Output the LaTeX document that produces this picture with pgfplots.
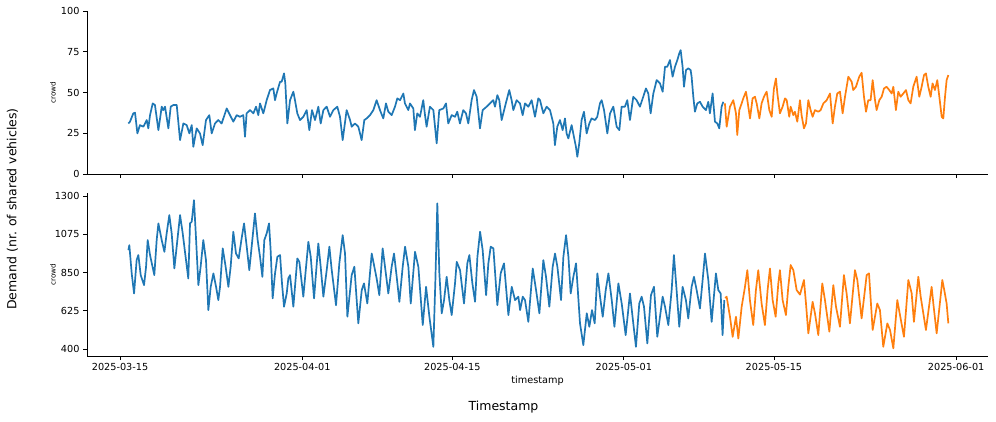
\documentclass[border=0pt]{standalone}
\usepackage{fontspec}
\setmainfont{DejaVu Sans}
\usepackage{pgfplots}
\pgfplotsset{compat=1.18}
\definecolor{mplblue}{HTML}{1F77B4}
\definecolor{mplorange}{HTML}{FF7F0E}
\pgfplotsset{
  panel/.style={
    scale only axis, width=901pt, height=163pt,
    xmin=-3.08, xmax=80.97,
    axis x line*=bottom, axis y line*=left,
    axis line style={-, black, line width=0.8pt},
    tick align=outside, major tick length=4pt,
    tick style={black, line width=0.8pt},
    xtick={0,17,31,47,61,78},
    ticklabel style={font=\fontsize{9.7}{11}\selectfont},
    /pgf/number format/assume math mode=true,
    /pgf/number format/1000 sep={},
    scaled ticks=false,
    ylabel={crowd},
    ylabel style={font=\fontsize{7.2}{8}\selectfont, at={(axis description cs:-0.0377,0.5)}, anchor=center},
    every axis plot/.append style={line width=1.7pt, line join=round},
  }
}
\begin{document}
\begin{tikzpicture}[x=1pt,y=1pt]
\useasboundingbox (0,0) rectangle (996,421);
% top panel
\begin{axis}[panel, at={(87pt,247pt)}, anchor=south west,
  ymin=0, ymax=100, ytick={0,25,50,75,100}, xticklabels={}]
\addplot[mplblue] coordinates {
(0.78,31.0)(0.93,32.1)(1.24,37.2)(1.40,37.6)(1.62,24.9)(1.86,30.0)(2.18,29.0)(2.49,33.1)(2.64,28.0)(2.80,36.1)
(3.05,43.3)(3.26,42.3)(3.58,26.9)(3.89,41.3)(4.04,39.2)(4.20,41.3)(4.51,28.0)(4.73,41.3)(4.97,42.3)(5.29,42.3)
(5.60,20.8)(5.91,31.0)(6.22,30.0)(6.47,24.9)(6.69,30.0)(6.84,16.7)(7.15,28.0)(7.46,24.9)(7.71,17.7)(8.02,33.1)
(8.33,36.1)(8.55,24.9)(8.86,31.0)(9.17,33.1)(9.48,31.0)(9.95,40.2)(10.26,36.1)(10.57,32.1)(10.88,36.1)(11.19,35.1)
(11.50,36.1)(11.66,22.9)(11.81,37.2)(12.13,39.2)(12.44,37.2)(12.69,41.3)(12.90,36.1)(13.06,43.3)(13.37,37.2)(13.68,45.3)
(13.99,51.5)(14.30,52.5)(14.46,45.3)(14.61,49.4)(14.93,56.6)(15.08,56.6)(15.30,61.7)(15.42,55.6)(15.61,31.0)(15.86,45.3)
(16.17,50.5)(16.32,45.3)(16.54,37.2)(16.79,33.1)(17.10,35.1)(17.41,39.2)(17.66,26.9)(17.91,39.2)(18.19,33.1)(18.50,41.3)
(18.72,31.0)(18.97,39.2)(19.28,41.3)(19.59,35.1)(19.90,39.2)(20.27,41.3)(20.52,35.1)(20.77,20.8)(21.14,39.2)(21.46,33.1)
(21.61,29.0)(21.92,31.0)(22.23,29.0)(22.54,20.8)(22.79,33.1)(23.01,34.1)(23.32,36.1)(23.63,39.2)(23.94,45.3)(24.25,39.2)
(24.56,34.1)(24.81,43.3)(25.03,38.2)(25.34,36.1)(25.65,41.3)(25.87,46.4)(26.12,45.3)
(26.43,49.4)(26.58,43.3)(26.89,39.2)(27.05,43.3)(27.36,40.2)(27.51,26.9)(27.73,37.2)(27.98,35.1)(28.29,45.3)(28.45,36.1)
(28.60,29.0)(28.91,41.3)(29.23,39.2)(29.54,18.8)(29.78,39.2)(30.16,40.2)(30.41,43.3)(30.62,31.0)(30.94,36.1)(31.25,35.1)
(31.46,38.2)(31.71,31.0)(32.02,39.2)(32.27,37.2)(32.49,31.0)(32.80,45.3)(33.02,51.5)(33.27,47.4)(33.58,28.0)(33.83,39.2)
(34.20,41.3)(34.51,43.3)(34.82,45.3)(34.98,41.3)(35.20,48.4)(35.38,45.3)(35.60,33.1)(35.91,41.3)(36.31,51.5)(36.53,45.3)
(36.69,39.2)(37.00,45.3)(37.31,43.3)(37.56,36.1)(37.78,43.3)(38.09,41.3)(38.40,45.3)(38.71,35.1)(39.02,46.4)(39.18,45.3)
(39.49,37.2)(39.80,41.3)(40.11,39.2)(40.42,31.0)(40.57,17.7)(40.79,29.0)(41.04,33.1)(41.29,26.9)(41.51,34.1)(41.66,24.9)
(41.82,21.8)(42.13,30.0)(42.28,24.9)(42.53,16.7)(42.66,10.6)(42.84,18.8)(43.06,33.1)(43.28,38.2)(43.53,24.9)(43.78,31.0)
(43.99,34.1)(44.31,33.1)(44.52,35.1)(44.77,43.3)(44.93,45.3)(45.15,39.2)(45.46,24.9)(45.71,37.2)(46.02,41.3)(46.33,29.0)
(46.58,26.9)(46.79,41.3)(47.10,41.3)(47.32,45.3)(47.57,33.1)(47.88,47.4)(48.19,45.3)(48.50,41.3)(48.81,47.4)(49.06,52.5)
(49.28,49.4)(49.50,37.2)(49.75,49.4)(50.06,57.6)(50.37,55.6)(50.62,50.5)(50.84,65.8)(51.05,65.8)(51.30,69.9)(51.55,59.7)
(51.77,65.8)(51.99,69.9)(52.17,74.0)(52.30,76.0)(52.48,65.8)(52.61,53.5)(52.80,63.8)(53.01,64.8)(53.23,63.8)(53.32,59.7)
(53.48,47.4)(53.63,38.2)(53.85,43.3)(54.10,44.3)(54.35,41.3)(54.66,39.2)(54.88,44.3)(55.03,37.2)(55.28,49.4)(55.50,32.1)
(55.72,31.0)(55.90,28.0)(56.12,41.3)(56.28,44.3)
};
\addplot[mplorange] coordinates {
(56.43,43.3)(56.59,29.0)(56.90,41.3)(57.21,45.3)(57.46,37.2)(57.58,23.9)(57.77,39.2)(57.99,43.3)(58.14,46.4)(58.39,50.5)
(58.52,45.3)(58.77,34.1)(59.01,46.4)(59.23,47.4)(59.39,43.3)(59.64,34.1)(59.85,43.3)(60.07,47.4)(60.32,50.5)(60.57,39.2)
(60.79,35.1)(61.00,52.5)(61.19,58.6)(61.32,49.4)(61.56,37.2)(61.81,41.3)(62.03,46.4)(62.19,45.3)(62.43,35.1)(62.56,41.3)
(62.81,36.1)(62.96,38.2)(63.18,32.1)(63.43,45.3)(63.58,36.1)(63.80,28.0)(63.99,31.0)(64.21,45.3)(64.42,39.2)(64.61,35.1)
(64.83,39.2)(65.14,38.2)(65.36,39.2)(65.61,43.3)(65.92,45.3)(66.23,49.4)(66.48,31.0)(66.69,41.3)(66.91,49.4)(67.16,50.5)
(67.41,37.2)(67.63,47.4)(67.94,59.7)(68.25,56.6)(68.40,51.5)(68.65,53.5)(68.96,59.7)(69.18,62.1)(69.40,47.4)(69.59,38.2)
(69.80,45.3)(70.02,45.3)(70.21,57.6)(70.43,45.3)(70.58,39.2)(70.83,45.3)(71.05,47.4)(71.27,52.5)(71.51,53.5)(71.76,51.5)
(71.98,49.4)(72.14,53.5)(72.38,39.2)(72.60,50.5)(72.82,47.4)(73.07,49.4)(73.32,51.5)(73.54,45.3)(73.75,43.3)(74.00,53.5)
(74.31,59.7)(74.56,47.4)(74.78,53.5)(75.00,60.7)(75.18,61.7)(75.40,53.5)(75.62,47.4)(75.80,55.6)(76.02,51.5)(76.24,57.6)
(76.43,47.4)(76.65,35.1)(76.80,34.1)(76.96,47.4)(77.11,57.6)(77.27,60.7)
};
\end{axis}
% bottom panel
\begin{axis}[panel, at={(87pt,65pt)}, anchor=south west,
  ymin=359, ymax=1318, ytick={400,625,850,1075,1300},
  xticklabels={2025-03-15,2025-04-01,2025-04-15,2025-05-01,2025-05-15,2025-06-01},
  xlabel={timestamp},
  xlabel style={font=\fontsize{9.7}{11}\selectfont, at={(axis description cs:0.5,-0.153)}, anchor=center}]
\addplot[mplblue] coordinates {
(0.78,982)(0.87,1011)(1.09,845)(1.31,727)(1.55,923)(1.71,953)(1.93,835)(2.24,776)(2.43,884)(2.58,1041)
(2.80,953)(3.20,835)(3.42,1041)(3.58,1139)(3.89,1041)(4.14,972)(4.35,1080)(4.60,1188)(4.82,1080)(5.07,874)
(5.35,1041)(5.60,1188)(5.85,1080)(6.06,972)(6.37,815)(6.53,1139)(6.69,1149)(6.90,1276)(7.09,1051)(7.31,776)
(7.52,884)(7.77,1041)(8.02,923)(8.24,629)(8.46,766)(8.71,845)(8.96,766)(9.17,688)(9.33,766)(9.58,992)
(9.83,894)(10.11,766)(10.32,884)(10.57,1090)(10.82,962)(11.07,933)(11.32,1041)(11.57,1139)(11.82,1002)(12.06,864)
(12.31,1021)(12.59,1198)(12.84,1041)(13.06,943)(13.28,825)(13.46,1041)(13.68,1080)(13.90,1139)(14.05,982)(14.24,698)
(14.46,845)(14.68,943)(14.93,953)(15.11,786)(15.30,649)(15.55,727)(15.70,815)
(15.86,835)(16.17,649)(16.54,933)(16.73,913)(17.10,708)(17.57,1031)(17.79,943)(18.10,698)(18.50,1021)(18.72,884)
(18.97,708)(19.28,864)(19.53,1002)(19.75,864)(20.15,658)(20.46,904)(20.77,1070)(20.99,962)(21.21,590)(21.61,835)
(21.86,884)(22.23,551)(22.55,747)(22.76,786)(23.07,668)(23.48,962)(23.94,815)(24.19,717)(24.50,992)(24.72,884)
(25.03,727)(25.34,884)(25.56,962)(25.81,825)(26.06,678)(26.37,884)(26.59,1002)(26.90,884)(27.12,668)(27.52,972)
(27.83,884)(28.24,541)(28.55,766)(28.86,590)(29.23,413)(29.42,806)(29.60,1257)(29.79,845)(30.01,610)(30.23,688)
(30.47,825)(30.72,688)(30.94,600)(31.25,786)(31.41,913)(31.72,864)
(32.09,668)(32.40,904)(32.59,953)(32.87,786)(33.12,678)(33.34,943)(33.59,1090)(33.83,982)(34.15,717)(34.36,904)
(34.58,1002)(34.83,992)(35.20,658)(35.51,845)(35.82,904)(36.23,600)(36.54,766)(36.85,688)(37.16,708)(37.32,629)
(37.57,708)(37.78,688)(38.09,560)(38.50,874)(38.81,747)(39.12,610)(39.49,923)(39.74,825)(40.05,649)(40.36,884)
(40.58,962)(40.80,884)(41.14,688)(41.36,943)(41.61,1070)(41.83,943)(42.04,727)(42.29,825)(42.54,904)(42.91,551)
(43.22,423)(43.54,610)(43.78,531)(44.03,629)(44.28,551)(44.53,845)(44.78,708)(45.03,590)(45.31,747)(45.56,845)
(45.87,688)(46.12,531)(46.49,786)(46.80,668)(47.17,482)(47.57,727)
(47.88,551)(48.13,413)(48.44,668)(48.66,708)(48.88,649)(49.19,433)(49.53,717)(49.81,766)(50.12,472)(50.62,708)
(50.84,649)(51.15,541)(51.46,747)(51.67,953)(51.92,747)(52.17,531)(52.48,766)(52.79,688)(53.01,580)(53.32,766)
(53.54,825)(53.79,747)(54.10,639)(54.35,806)(54.57,962)(54.88,806)(55.19,560)(55.59,845)(55.81,747)(56.03,727)
(56.21,482)(56.37,688)
};
\addplot[mplorange] coordinates {
(56.45,700)(56.59,708)(56.90,590)(57.15,472)(57.46,590)(57.68,462)(57.99,649)(58.30,766)(58.52,864)(58.76,688)
(59.07,541)(59.32,747)(59.54,864)(59.85,668)(60.16,541)(60.41,747)(60.63,874)(60.88,688)(61.16,590)(61.41,786)
(61.56,864)(61.81,688)(62.12,600)(62.34,766)(62.56,894)(62.81,864)(63.12,747)(63.43,720)
(63.80,806)(63.99,668)(64.21,492)(64.61,678)(64.83,609)(65.14,482)(65.51,786)(65.76,688)(66.17,502)(66.54,776)
(66.79,649)(67.16,531)(67.53,835)(67.78,727)(68.09,551)(68.56,864)(68.78,806)(69.18,580)(69.65,835)(69.87,845)
(70.21,512)(70.64,668)(70.89,629)(71.20,413)(71.58,551)(71.83,512)(72.14,404)(72.51,688)(72.76,600)(73.13,472)
(73.54,806)(73.85,727)(74.06,560)(74.47,825)(74.69,708)(75.18,512)(75.71,766)(75.87,668)(76.18,492)(76.71,806)
(76.89,747)(77.11,668)(77.27,551)
};
\end{axis}
\node[rotate=90, font=\fontsize{12.5}{14}\selectfont] at (12.5,212) {Demand (nr. of shared vehicles)};
\node[font=\fontsize{12.5}{14}\selectfont] at (503.5,14) {Timestamp};
\end{tikzpicture}
\end{document}
